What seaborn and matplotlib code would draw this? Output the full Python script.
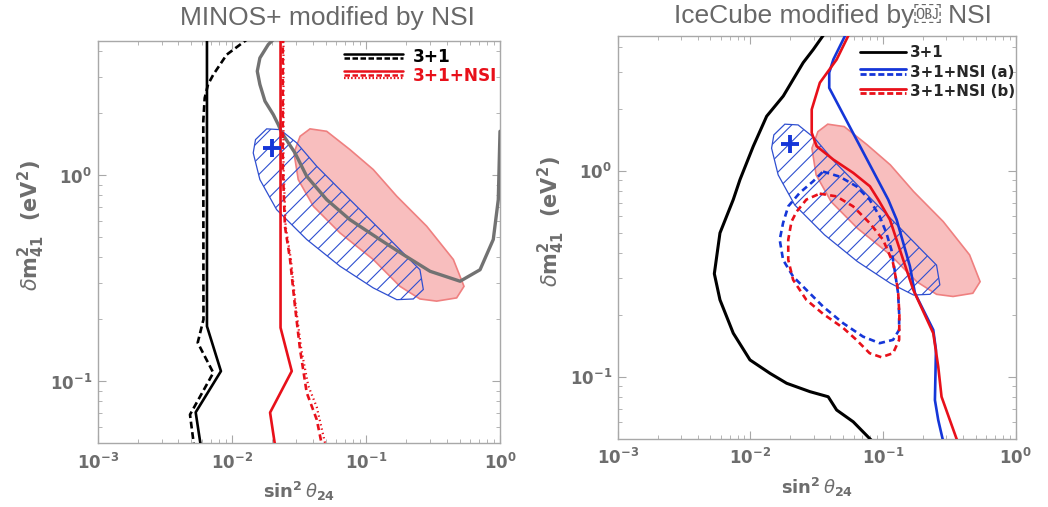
import numpy as np
import pandas as pd
import matplotlib
matplotlib.use("Agg")
import matplotlib.pyplot as plt
import seaborn as sns
from matplotlib.lines import Line2D
from matplotlib.legend_handler import HandlerBase
from matplotlib.ticker import NullFormatter, LogLocator

# ---------------- data ----------------
# shared regions (both panels)
ellipse_x = [0.0182, 0.01503, 0.01445, 0.0162, 0.0216, 0.0362, 0.0641, 0.1135, 0.170, 0.2257,
             0.268, 0.253, 0.201, 0.135, 0.0760, 0.0430, 0.0305, 0.0229]
ellipse_y = [1.68, 1.49, 1.284, 0.953, 0.681, 0.488, 0.362, 0.284, 0.249, 0.251,
             0.279, 0.348, 0.404, 0.525, 0.762, 1.106, 1.436, 1.666]
pink_x = [0.0383, 0.0510, 0.0760, 0.1135, 0.170, 0.284, 0.449, 0.539, 0.475, 0.337, 0.253,
          0.1795, 0.1135, 0.0641, 0.0406, 0.0313, 0.0291, 0.0323]
pink_y = [1.68, 1.635, 1.333, 1.066, 0.791, 0.566, 0.390, 0.289, 0.254, 0.245, 0.251,
          0.289, 0.390, 0.525, 0.707, 0.953, 1.284, 1.546]
best_fit_x = [0.020]
best_fit_y = [1.35]

# MINOS+ panel
minos_31_solid_x = [0.00653, 0.00653, 0.0083, 0.00538, 0.00586]
minos_31_solid_y = [4.7, 0.185, 0.112, 0.0707, 0.049]
minos_31_dash_x = [0.0135, 0.00916, 0.00728, 0.00665, 0.00628, 0.00613, 0.00615, 0.00557,
                   0.00728, 0.00488, 0.00522]
minos_31_dash_y = [4.65, 3.85, 3.08, 2.76, 2.37, 1.83, 0.1995, 0.154, 0.110, 0.0689, 0.049]
minos_nsi_solid_x = [0.0231, 0.0231, 0.0280, 0.0193, 0.0210]
minos_nsi_solid_y = [4.7, 0.182, 0.112, 0.0705, 0.049]
minos_nsi_dash_x = [0.0240, 0.0240, 0.0249, 0.0272, 0.0296, 0.0323, 0.0362, 0.0430, 0.0470]
minos_nsi_dash_y = [4.7, 1.106, 0.566, 0.390, 0.231, 0.1425, 0.0881, 0.0652, 0.049]
minos_nsi_dot_x = [0.0243, 0.0243, 0.0252, 0.0276, 0.0300, 0.0330, 0.0372, 0.0430, 0.0500]
minos_nsi_dot_y = [4.7, 1.106, 0.566, 0.390, 0.231, 0.1425, 0.095, 0.075, 0.049]
minos_orig_x = [0.0207, 0.0187, 0.0162, 0.01549, 0.0162, 0.01768, 0.0204, 0.0222, 0.0236, 0.0296,
                0.0362, 0.0510, 0.0760, 0.127, 0.190, 0.301, 0.504, 0.710, 0.891, 0.971, 1.0]
minos_orig_y = [4.6, 4.31, 3.71, 3.20, 2.76, 2.29, 1.97, 1.763, 1.607, 1.284,
                0.989, 0.762, 0.609, 0.488, 0.412, 0.342, 0.306, 0.348, 0.488, 0.762, 1.635]

# IceCube panel
ic_31_x = [0.0360, 0.0298, 0.0250, 0.0177, 0.01327, 0.01052, 0.00835, 0.00743, 0.00590, 0.00535,
           0.00590, 0.00743, 0.00993, 0.01406, 0.01877, 0.0281, 0.0386, 0.0447, 0.0596, 0.0820]
ic_31_y = [4.6, 3.87, 3.34, 2.30, 1.836, 1.313, 0.904, 0.723, 0.498, 0.316,
           0.236, 0.1626, 0.1206, 0.1038, 0.0929, 0.0846, 0.0799, 0.0689, 0.0604, 0.049]
ic_a_solid_x = [0.0525, 0.0422, 0.0393, 0.0393, 0.1094, 0.1266, 0.1595, 0.174, 0.239, 0.2505,
                0.246, 0.2606, 0.283]
ic_a_solid_y = [4.6, 3.46, 2.99, 2.52, 0.723, 0.578, 0.343, 0.254, 0.1687, 0.1348,
                0.0770, 0.0616, 0.049]
ic_b_solid_x = [0.0555, 0.0447, 0.0334, 0.0290, 0.0290, 0.0316, 0.0422, 0.0596, 0.0796, 0.0920,
                0.1127, 0.1419, 0.169, 0.239, 0.2606, 0.276, 0.362]
ic_b_solid_y = [4.6, 3.46, 2.67, 1.98, 1.525, 1.313, 1.131, 0.975, 0.839, 0.723,
                0.578, 0.369, 0.264, 0.1626, 0.1119, 0.0799, 0.049]
ic_a_dash_x = [0.0353, 0.0471, 0.0630, 0.0792, 0.0943, 0.1059, 0.1156, 0.1222, 0.1297, 0.1322,
               0.1322, 0.1190, 0.0943, 0.0706, 0.0500, 0.0353, 0.0264, 0.0210, 0.01764, 0.01664,
               0.01764, 0.0193, 0.0235, 0.0297, 0.0353]
ic_a_dash_y = [0.989, 0.935, 0.839, 0.723, 0.600, 0.498, 0.413, 0.330, 0.255, 0.2033,
               0.1687, 0.1509, 0.1454, 0.1565, 0.1818, 0.219, 0.264, 0.306, 0.369, 0.462,
               0.557, 0.671, 0.779, 0.887, 0.989]
ic_b_dash_x = [0.0333, 0.0445, 0.0594, 0.0792, 0.1000, 0.1190, 0.1297, 0.1328, 0.1322, 0.1190,
               0.0971, 0.0792, 0.0630, 0.0500, 0.0353, 0.0264, 0.0210, 0.0193, 0.0193, 0.0204,
               0.0223, 0.0264, 0.0333]
ic_b_dash_y = [0.773, 0.750, 0.671, 0.557, 0.462, 0.356, 0.264, 0.1995, 0.1509, 0.130,
               0.1243, 0.130, 0.1509, 0.1725, 0.2018, 0.236, 0.295, 0.369, 0.462, 0.565,
               0.632, 0.723, 0.773]

x_ticks = [1e-3, 1e-2, 1e-1, 1.0]
x_ticklabels = [r"$\mathbf{10^{-3}}$", r"$\mathbf{10^{-2}}$", r"$\mathbf{10^{-1}}$", r"$\mathbf{10^{0}}$"]
y_ticks = [0.1, 1.0]
y_ticklabels = [r"$\mathbf{10^{-1}}$", r"$\mathbf{10^{0}}$"]

# ---------------- style ----------------
sns.set_theme(style="ticks")
plt.rcParams["font.family"] = ["Liberation Sans", "DejaVu Sans"]
plt.rcParams["mathtext.fontset"] = "dejavusans"
plt.rcParams["hatch.linewidth"] = 0.8

GRAY_TXT = "#6d6d6d"
SPINE = "#a8a8a8"
BLACK = "#000000"
RED = "#e8101a"
BLUE = "#1536d8"
HATCH_BLUE = "#2f4fd0"
GRAYLINE = "#727272"
LW = 1.9
WIDE = "DejaVu Sans"


class StackedLines(HandlerBase):
    def __init__(self, gap=2.6, **kw):
        super().__init__(**kw)
        self.gap = gap

    def create_artists(self, legend, orig_handle, xdescent, ydescent, width, height, fontsize, trans):
        n = len(orig_handle)
        arts = []
        yc = (height - ydescent) / 2.0
        for i, h in enumerate(orig_handle):
            y = yc + (n - 1) / 2.0 * self.gap - i * self.gap
            ln = Line2D([-xdescent, width - xdescent], [y, y])
            ln.update_from(h)
            ln.set_transform(trans)
            arts.append(ln)
        return arts


fig = plt.figure(figsize=(10.48, 5.07), dpi=100)
axL = fig.add_axes([0.0932, 0.1256, 0.3839, 0.7941])
axR = fig.add_axes([0.5894, 0.1347, 0.3798, 0.7943])


def common(ax):
    ax.fill(pink_x, pink_y, facecolor="#f8bebe", edgecolor="#ef8080", lw=1.2, zorder=1)
    ax.fill(ellipse_x, ellipse_y, facecolor="none", edgecolor=HATCH_BLUE, hatch="//", lw=0.9, zorder=2)
    sns.scatterplot(x=best_fit_x, y=best_fit_y, marker="+", s=160, color=BLUE, linewidth=2.8,
                    ax=ax, zorder=6, legend=False)


def line(ax, x, y, color, ls="-", lw=LW, z=4):
    sns.lineplot(x=x, y=y, sort=False, estimator=None, color=color, linestyle=ls, lw=lw,
                 ax=ax, zorder=z, legend=False)


def style_axes(ax):
    ax.set_xscale("log")
    ax.set_yscale("log")
    ax.set_xlim(1e-3, 1.0)
    ax.set_ylim(0.05, 4.5)
    ax.set_xticks(x_ticks, labels=x_ticklabels)
    ax.set_yticks(y_ticks, labels=y_ticklabels)
    ax.xaxis.set_minor_locator(LogLocator(base=10, subs=np.arange(2, 10)))
    ax.yaxis.set_minor_locator(LogLocator(base=10, subs=np.arange(2, 10)))
    ax.xaxis.set_minor_formatter(NullFormatter())
    ax.yaxis.set_minor_formatter(NullFormatter())
    ax.tick_params(which="both", direction="in", top=True, right=True, color=SPINE,
                   labelcolor=GRAY_TXT, labelsize=12)
    ax.tick_params(which="major", length=6, width=0.8)
    ax.tick_params(which="minor", length=3, width=0.6)
    ax.tick_params(axis="x", pad=6)
    ax.tick_params(axis="y", pad=4)
    for s in ax.spines.values():
        s.set_color(SPINE)
        s.set_linewidth(1.0)
    ax.set_xlabel(r"$\mathbf{sin^2}\,\theta_{\mathbf{24}}$", fontsize=13, color=GRAY_TXT, labelpad=6)
    ax.set_ylabel(r"$\delta\mathbf{m}^{\mathbf{2}}_{\mathbf{41}}$  (eV$^{\mathbf{2}}$)", fontsize=15,
                  color=GRAY_TXT, fontweight="bold", family=WIDE)
    ax.yaxis.set_label_coords(-0.127, 0.54)


# ---------------- left panel ----------------
common(axL)
line(axL, minos_orig_x, minos_orig_y, GRAYLINE, lw=2.4, z=3)
line(axL, minos_31_solid_x, minos_31_solid_y, BLACK)
line(axL, minos_31_dash_x, minos_31_dash_y, BLACK, ls=(0, (2.6, 1.4)))
line(axL, minos_nsi_solid_x, minos_nsi_solid_y, RED)
line(axL, minos_nsi_dash_x, minos_nsi_dash_y, RED, ls=(0, (2.4, 1.6)))
line(axL, minos_nsi_dot_x, minos_nsi_dot_y, RED, ls=(0, (0.6, 1.4)), lw=1.6)
style_axes(axL)
axL.set_title("MINOS+ modified by NSI", x=0.572, pad=11, fontsize=19, color="#686868")

hL = [
    (Line2D([], [], color=BLACK, lw=1.8), Line2D([], [], color=BLACK, lw=1.8, ls=(0, (2.2, 1.0)))),
    (Line2D([], [], color=RED, lw=1.8), Line2D([], [], color=RED, lw=1.8, ls=(0, (2.2, 1.0))),
     Line2D([], [], color=RED, lw=1.6, ls=(0, (0.7, 0.9)))),
]
legL = axL.legend(hL, ["3+1", "3+1+NSI"], handler_map={tuple: StackedLines(gap=2.4)},
                  loc="upper right", bbox_to_anchor=(1.005, 0.995), frameon=False,
                  prop={"family": WIDE, "weight": "bold", "size": 12.2}, handlelength=3.48,
                  handletextpad=0.59, labelspacing=0.05, borderpad=0.3, borderaxespad=0.0)
legL.get_texts()[0].set_color(BLACK)
legL.get_texts()[1].set_color(RED)

# ---------------- right panel ----------------
common(axR)
line(axR, ic_31_x, ic_31_y, BLACK, lw=2.2)
line(axR, ic_a_dash_x, ic_a_dash_y, BLUE, ls=(0, (2.4, 1.6)))
line(axR, ic_b_dash_x, ic_b_dash_y, RED, ls=(0, (2.4, 1.6)))
line(axR, ic_a_solid_x, ic_a_solid_y, BLUE)
line(axR, ic_b_solid_x, ic_b_solid_y, RED)
style_axes(axR)
axR.set_title("IceCube modified by\ufffc NSI", x=0.542, pad=9, fontsize=19, color="#686868")

hR = [
    (Line2D([], [], color=BLACK, lw=2.0),),
    (Line2D([], [], color=BLUE, lw=2.0), Line2D([], [], color=BLUE, lw=2.0, ls=(0, (2.2, 1.0)))),
    (Line2D([], [], color=RED, lw=2.0), Line2D([], [], color=RED, lw=2.0, ls=(0, (2.2, 1.0)))),
]
legR = axR.legend(hR, ["3+1", "3+1+NSI (a)", "3+1+NSI (b)"], handler_map={tuple: StackedLines(gap=3.4)},
                  loc="upper right", bbox_to_anchor=(1.013, 0.992), frameon=False,
                  prop={"family": WIDE, "weight": "bold", "size": 10.8}, handlelength=3.03,
                  handletextpad=0.27, labelspacing=0.3, borderpad=0.4, borderaxespad=0.0)

fig.savefig("out.png", dpi=100)
